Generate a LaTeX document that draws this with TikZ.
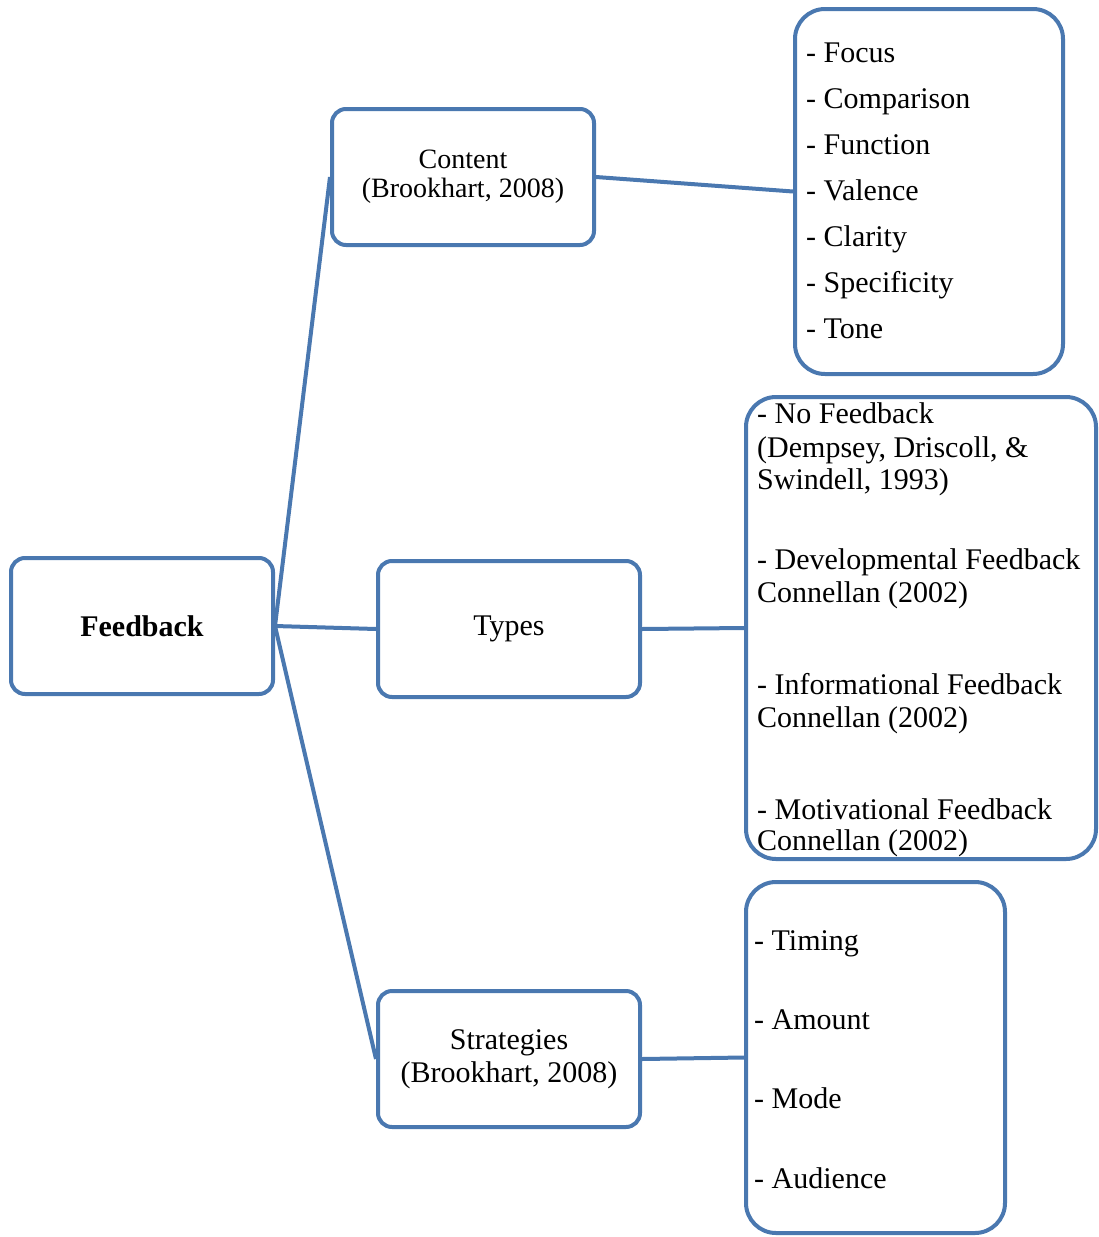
\documentclass[tikz,border=0pt]{standalone}
\usepackage{fontspec}
\setmainfont{Liberation Serif}
\definecolor{boxblue}{RGB}{74,120,176}
\begin{document}
\begin{tikzpicture}[x=1pt,y=-1pt,
  box/.style={draw=boxblue, line width=4pt, rounded corners=14pt, minimum width=262pt, minimum height=136pt, inner sep=0pt, align=center, font=\fontsize{30}{33}\selectfont},
  listbox/.style={draw=boxblue, line width=4pt, rounded corners=30pt, inner sep=0pt},
  item/.style={anchor=base west, inner sep=0pt, font=\fontsize{30}{33}\selectfont},
  link/.style={draw=boxblue, line width=4pt}]
\useasboundingbox (0,0) rectangle (1099,1237);
% main boxes
\node[box, font=\bfseries\fontsize{30}{33}\selectfont] (fb) at (142,626) {Feedback};
\node[box, font=\fontsize{28}{29}\selectfont] (content) at (463,177) {Content\\(Brookhart, 2008)};
\node[box] (types) at (509,629) {Types};
\node[box] (strat) at (509,1059) {Strategies\\(Brookhart, 2008)};
% list boxes
\node[listbox, minimum width=268pt, minimum height=365pt] (clist) at (929,191.5) {};
\node[listbox, minimum width=350pt, minimum height=462pt] (tlist) at (921,628) {};
\node[listbox, minimum width=259pt, minimum height=351pt] (slist) at (875.5,1057.5) {};
% content items
\node[item] (c1) at (806,62) {- Focus};
\node[item] (c2) at (806,108) {- Comparison};
\node[item] (c3) at (806,154) {- Function};
\node[item] (c4) at (806,200) {- Valence};
\node[item] (c5) at (806,246) {- Clarity};
\node[item] (c6) at (806,292) {- Specificity};
\node[item] (c7) at (806,338) {- Tone};
% types items
\node[item] (t1) at (757,423) {- No Feedback};
\node[item] (t2) at (757,457) {(Dempsey, Driscoll, \&};
\node[item] (t3) at (757,489) {Swindell, 1993)};
\node[item] (t4) at (757,569) {- Developmental Feedback};
\node[item] (t5) at (757,602) {Connellan (2002)};
\node[item] (t6) at (757,694) {- Informational Feedback};
\node[item] (t7) at (757,727) {Connellan (2002)};
\node[item] (t8) at (757,819) {- Motivational Feedback};
\node[item] (t9) at (757,850) {Connellan (2002)};
% strategies items
\node[item] (s1) at (754,950) {- Timing};
\node[item] (s2) at (754,1029) {- Amount};
\node[item] (s3) at (754,1108) {- Mode};
\node[item] (s4) at (754,1188) {- Audience};
% connectors
\draw[link] (fb.east) -- (content.west);
\draw[link] (fb.east) -- (types.west);
\draw[link] (fb.east) -- (strat.west);
\draw[link] (content.east) -- (clist.west);
\draw[link] (types.east) -- (tlist.west);
\draw[link] (strat.east) -- (slist.west);
\end{tikzpicture}
\end{document}
